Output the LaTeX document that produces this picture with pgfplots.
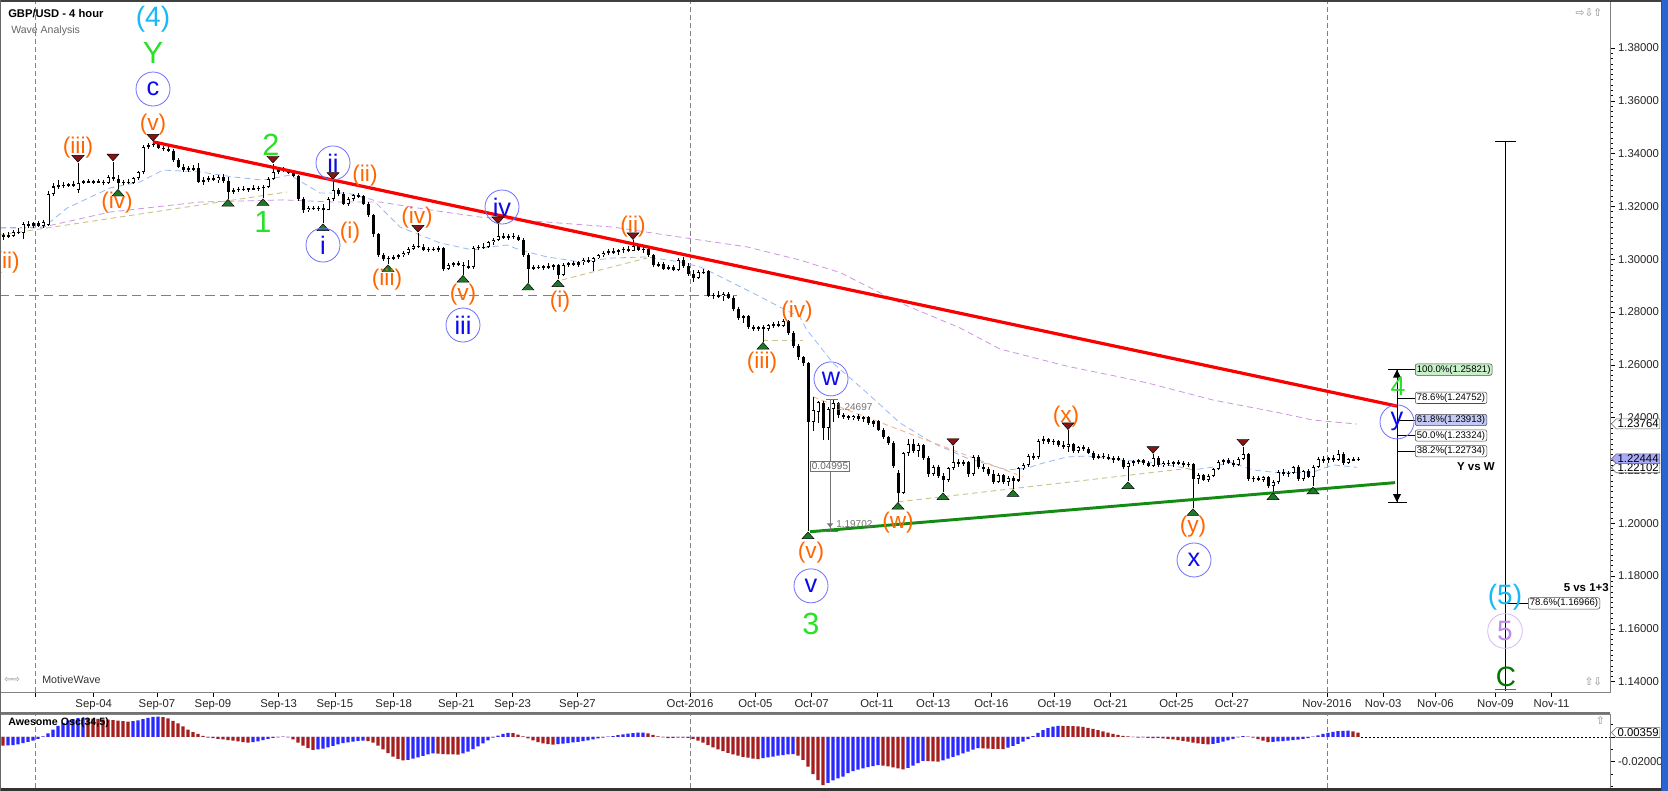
\documentclass[border=0pt]{standalone}
\usepackage{fontspec}
\setmainfont{Liberation Sans}
\newfontfamily\dejavu{DejaVu Sans}
\usepackage{pgfplots}
\pgfplotsset{compat=1.18}
\usepackage{pgfplotstable}
\usetikzlibrary{shapes.symbols}

\definecolor{orw}{RGB}{255,102,0}
\definecolor{cyw}{RGB}{25,185,245}
\definecolor{grw}{RGB}{40,225,40}
\definecolor{dgw}{RGB}{0,120,0}
\definecolor{blw}{RGB}{10,10,235}
\definecolor{blcirc}{RGB}{110,110,255}
\definecolor{puw}{RGB}{190,140,235}
\definecolor{pucirc}{RGB}{215,185,245}
\definecolor{redl}{RGB}{250,0,0}
\definecolor{grl}{RGB}{20,140,20}
\definecolor{triR}{RGB}{135,20,20}
\definecolor{triG}{RGB}{30,120,40}
\definecolor{maB}{RGB}{150,185,245}
\definecolor{maP}{RGB}{205,150,225}
\definecolor{tanl}{RGB}{205,195,140}
\definecolor{aoB}{RGB}{40,40,255}
\definecolor{aoR}{RGB}{165,30,30}
\definecolor{gdash}{RGB}{70,170,70}
\definecolor{odash}{RGB}{250,180,140}
\definecolor{axg}{RGB}{130,130,130}
\definecolor{frameB}{RGB}{40,100,210}
\definecolor{fibG}{RGB}{200,240,200}
\definecolor{fibB}{RGB}{195,200,245}
\definecolor{pboxB}{RGB}{170,170,250}

\tikzset{
 orn/.style={text=orw, font=\fontsize{17}{17}\selectfont, inner sep=0pt},
 grn/.style={text=grw, font=\fontsize{23}{23}\selectfont, inner sep=0pt},
 grnf/.style={text=grw, font=\fontsize{20}{20}\selectfont, inner sep=0pt},
 dgrn/.style={text=dgw, font=\fontsize{21}{21}\selectfont, inner sep=0pt},
 cyn/.style={text=cyw, font=\fontsize{21}{21}\selectfont, inner sep=0pt},
 blc/.style={circle, draw=blcirc, line width=0.6pt, minimum size=25.5pt, inner sep=0pt, text=blw, font=\fontsize{19}{19}\selectfont},
 puc/.style={circle, draw=pucirc, line width=0.6pt, minimum size=26pt, inner sep=0pt, text=puw, font=\fontsize{21}{21}\selectfont},
 fibbox/.style={draw=black!70, rounded corners=1.5pt, fill=white, inner xsep=1.2pt, inner ysep=0.9pt, font=\fontsize{7.2}{8}\selectfont, anchor=west},
 pbox/.style={shape=signal, signal to=west, draw=black!60, fill=white, inner xsep=1pt, inner ysep=0.7pt, anchor=west, font=\fontsize{8.5}{9}\selectfont},
}
\newcommand\dtri[2]{\filldraw[fill=triR, draw=black, line width=0.35pt] ([shift={(-4.5pt,5.6pt)}]axis cs:#1,#2) -- ([shift={(4.5pt,5.6pt)}]axis cs:#1,#2) -- ([shift={(0pt,0.6pt)}]axis cs:#1,#2) -- cycle;}
\newcommand\utri[2]{\filldraw[fill=triG, draw=black, line width=0.35pt] ([shift={(-4.5pt,-5.6pt)}]axis cs:#1,#2) -- ([shift={(4.5pt,-5.6pt)}]axis cs:#1,#2) -- ([shift={(0pt,-0.6pt)}]axis cs:#1,#2) -- cycle;}

\pgfplotstableread{
t o h l c
0 1.3085 1.3098 1.3072 1.3092
1 1.3092 1.3104 1.3080 1.3088
2 1.3088 1.3110 1.3083 1.3105
3 1.3105 1.3118 1.3096 1.3100
4 1.3100 1.3140 1.3078 1.3132
5 1.3132 1.3145 1.3120 1.3128
6 1.3128 1.3140 1.3118 1.3136
7 1.3136 1.3146 1.3122 1.3127
8 1.3127 1.3150 1.3120 1.3142
9 1.3130 1.3258 1.3125 1.3248
10 1.3248 1.3290 1.3240 1.3276
11 1.3276 1.3300 1.3268 1.3282
12 1.3282 1.3292 1.3270 1.3278
13 1.3278 1.3290 1.3272 1.3285
14 1.3285 1.3296 1.3275 1.3280
15 1.3262 1.3365 1.3250 1.3290
16 1.3290 1.3302 1.3285 1.3295
17 1.3295 1.3303 1.3288 1.3292
18 1.3292 1.3300 1.3287 1.3296
19 1.3296 1.3305 1.3290 1.3293
20 1.3293 1.3300 1.3283 1.3290
21 1.3290 1.3318 1.3285 1.3312
22 1.3312 1.3370 1.3295 1.3305
23 1.3305 1.3318 1.3268 1.3290
24 1.3290 1.3300 1.3282 1.3294
25 1.3294 1.3303 1.3285 1.3290
26 1.3290 1.3312 1.3285 1.3308
27 1.3308 1.3335 1.3300 1.3330
28 1.3330 1.3432 1.3325 1.3425
29 1.3425 1.3440 1.3418 1.3432
30 1.3432 1.3445 1.3425 1.3438
31 1.3438 1.3442 1.3418 1.3422
32 1.3422 1.3430 1.3410 1.3418
33 1.3418 1.3428 1.3408 1.3412
34 1.3412 1.3418 1.3370 1.3375
35 1.3375 1.3382 1.3345 1.3350
36 1.3350 1.3360 1.3330 1.3340
37 1.3340 1.3352 1.3330 1.3345
38 1.3345 1.3358 1.3335 1.3340
39 1.3345 1.3365 1.3288 1.3292
40 1.3292 1.3310 1.3280 1.3300
41 1.3300 1.3315 1.3292 1.3308
42 1.3308 1.3320 1.3295 1.3300
43 1.3300 1.3318 1.3290 1.3312
44 1.3312 1.3322 1.3290 1.3295
45 1.3295 1.3310 1.3230 1.3255
46 1.3255 1.3270 1.3248 1.3262
47 1.3262 1.3275 1.3255 1.3268
48 1.3268 1.3276 1.3258 1.3262
49 1.3262 1.3272 1.3255 1.3270
50 1.3270 1.3280 1.3262 1.3266
51 1.3266 1.3278 1.3258 1.3272
52 1.3272 1.3280 1.3232 1.3275
53 1.3275 1.3310 1.3270 1.3305
54 1.3305 1.3362 1.3300 1.3330
55 1.3330 1.3345 1.3322 1.3338
56 1.3338 1.3348 1.3330 1.3335
57 1.3335 1.3342 1.3325 1.3330
58 1.3330 1.3340 1.3310 1.3315
59 1.3315 1.3320 1.3220 1.3228
60 1.3228 1.3235 1.3175 1.3185
61 1.3185 1.3200 1.3180 1.3195
62 1.3195 1.3203 1.3185 1.3190
63 1.3190 1.3202 1.3182 1.3196
64 1.3196 1.3210 1.3137 1.3188
65 1.3188 1.3235 1.3185 1.3228
66 1.3228 1.3300 1.3222 1.3262
67 1.3262 1.3270 1.3240 1.3248
68 1.3248 1.3255 1.3205 1.3210
69 1.3210 1.3235 1.3200 1.3228
70 1.3228 1.3248 1.3222 1.3242
71 1.3242 1.3250 1.3232 1.3238
72 1.3238 1.3245 1.3205 1.3210
73 1.3210 1.3218 1.3160 1.3168
74 1.3168 1.3172 1.3085 1.3095
75 1.3095 1.3100 1.3008 1.3015
76 1.3015 1.3025 1.2995 1.3002
77 1.3002 1.3012 1.2982 1.3005
78 1.3005 1.3015 1.2998 1.3008
79 1.3008 1.3020 1.3000 1.3015
80 1.3015 1.3030 1.3010 1.3025
81 1.3025 1.3045 1.3018 1.3040
82 1.3040 1.3058 1.3035 1.3050
83 1.3050 1.3100 1.3042 1.3048
84 1.3048 1.3058 1.3030 1.3035
85 1.3035 1.3045 1.3028 1.3040
86 1.3040 1.3048 1.3030 1.3035
87 1.3035 1.3050 1.3028 1.3042
88 1.3042 1.3048 1.2955 1.2965
89 1.2965 1.2985 1.2958 1.2978
90 1.2978 1.2990 1.2970 1.2985
91 1.2985 1.2995 1.2975 1.2980
92 1.2980 1.2990 1.2942 1.2975
93 1.2975 1.2998 1.2965 1.2970
94 1.2970 1.3050 1.2962 1.3042
95 1.3042 1.3055 1.3035 1.3048
96 1.3048 1.3060 1.3040 1.3045
97 1.3045 1.3070 1.3042 1.3065
98 1.3065 1.3080 1.3055 1.3075
99 1.3075 1.3132 1.3070 1.3088
100 1.3088 1.3100 1.3078 1.3082
101 1.3082 1.3095 1.3075 1.3090
102 1.3090 1.3098 1.3078 1.3083
103 1.3083 1.3092 1.3070 1.3075
104 1.3075 1.3080 1.3010 1.3018
105 1.3018 1.3025 1.2912 1.2965
106 1.2965 1.2978 1.2958 1.2972
107 1.2972 1.2980 1.2962 1.2968
108 1.2968 1.2978 1.2960 1.2974
109 1.2974 1.2985 1.2965 1.2970
110 1.2970 1.2982 1.2960 1.2978
111 1.2978 1.2982 1.2925 1.2940
112 1.2940 1.2985 1.2935 1.2978
113 1.2978 1.2990 1.2970 1.2985
114 1.2985 1.2995 1.2975 1.2980
115 1.2980 1.2992 1.2972 1.2988
116 1.2988 1.3005 1.2980 1.2998
117 1.2998 1.3008 1.2985 1.2990
118 1.2990 1.3010 1.2955 1.3005
119 1.3005 1.3020 1.3000 1.3015
120 1.3015 1.3030 1.3008 1.3025
121 1.3025 1.3038 1.3018 1.3030
122 1.3030 1.3042 1.3020 1.3028
123 1.3028 1.3040 1.3015 1.3035
124 1.3035 1.3048 1.3025 1.3040
125 1.3040 1.3052 1.3028 1.3032
126 1.3032 1.3072 1.3030 1.3050
127 1.3050 1.3058 1.3030 1.3035
128 1.3035 1.3045 1.3025 1.3040
129 1.3040 1.3048 1.3010 1.3015
130 1.3015 1.3020 1.2970 1.2978
131 1.2978 1.2990 1.2970 1.2982
132 1.2982 1.2990 1.2960 1.2965
133 1.2965 1.2978 1.2958 1.2972
134 1.2972 1.2980 1.2955 1.2960
135 1.2960 1.3005 1.2955 1.2998
136 1.2998 1.3010 1.2968 1.2975
137 1.2975 1.2985 1.2935 1.2945
138 1.2945 1.2960 1.2915 1.2930
139 1.2930 1.2958 1.2925 1.2952
140 1.2952 1.2962 1.2945 1.2948
141 1.2955 1.2960 1.2858 1.2862
142 1.2862 1.2872 1.2848 1.2865
143 1.2865 1.2880 1.2855 1.2860
144 1.2860 1.2875 1.2842 1.2870
145 1.2870 1.2878 1.2850 1.2855
146 1.2855 1.2862 1.2805 1.2812
147 1.2812 1.2820 1.2770 1.2778
148 1.2778 1.2790 1.2760 1.2785
149 1.2785 1.2790 1.2735 1.2742
150 1.2742 1.2752 1.2730 1.2738
151 1.2738 1.2748 1.2728 1.2745
152 1.2745 1.2750 1.2688 1.2735
153 1.2735 1.2755 1.2728 1.2750
154 1.2750 1.2762 1.2740 1.2755
155 1.2755 1.2768 1.2745 1.2748
156 1.2748 1.2772 1.2742 1.2765
157 1.2765 1.2770 1.2715 1.2722
158 1.2722 1.2730 1.2665 1.2672
159 1.2672 1.2680 1.2620 1.2628
160 1.2628 1.2635 1.2595 1.2608
161 1.2608 1.2612 1.1970 1.2385
162 1.2385 1.2478 1.2350 1.2430
163 1.2421 1.2462 1.2380 1.2458
164 1.2455 1.2462 1.2315 1.2362
165 1.2362 1.2440 1.2315 1.2432
166 1.2432 1.2470 1.2385 1.2455
167 1.2455 1.2460 1.2400 1.2410
168 1.2410 1.2418 1.2395 1.2405
169 1.2405 1.2412 1.2390 1.2398
170 1.2398 1.2412 1.2392 1.2408
171 1.2408 1.2414 1.2388 1.2395
172 1.2395 1.2408 1.2385 1.2402
173 1.2402 1.2406 1.2372 1.2378
174 1.2378 1.2392 1.2365 1.2386
175 1.2386 1.2390 1.2350 1.2355
176 1.2355 1.2360 1.2320 1.2325
177 1.2325 1.2332 1.2298 1.2304
178 1.2304 1.2310 1.2210 1.2216
179 1.2190 1.2200 1.2082 1.2115
180 1.2115 1.2270 1.2110 1.2265
181 1.2265 1.2318 1.2255 1.2300
182 1.2300 1.2320 1.2268 1.2275
183 1.2275 1.2305 1.2250 1.2298
184 1.2298 1.2302 1.2240 1.2248
185 1.2248 1.2255 1.2175 1.2185
186 1.2185 1.2220 1.2180 1.2212
187 1.2212 1.2220 1.2170 1.2178
188 1.2178 1.2190 1.2118 1.2165
189 1.2165 1.2215 1.2155 1.2208
190 1.2208 1.2292 1.2200 1.2232
191 1.2232 1.2245 1.2215 1.2225
192 1.2225 1.2238 1.2218 1.2232
193 1.2232 1.2236 1.2175 1.2185
194 1.2185 1.2258 1.2180 1.2250
195 1.2250 1.2260 1.2205 1.2212
196 1.2212 1.2225 1.2195 1.2205
197 1.2205 1.2212 1.2180 1.2188
198 1.2188 1.2200 1.2150 1.2158
199 1.2158 1.2190 1.2152 1.2182
200 1.2182 1.2188 1.2148 1.2155
201 1.2155 1.2178 1.2140 1.2172
202 1.2172 1.2180 1.2130 1.2162
203 1.2162 1.2215 1.2155 1.2208
204 1.2208 1.2230 1.2200 1.2222
205 1.2222 1.2262 1.2215 1.2255
206 1.2255 1.2268 1.2240 1.2250
207 1.2250 1.2320 1.2245 1.2312
208 1.2312 1.2330 1.2300 1.2318
209 1.2318 1.2325 1.2302 1.2308
210 1.2308 1.2318 1.2298 1.2312
211 1.2312 1.2316 1.2290 1.2298
212 1.2298 1.2310 1.2282 1.2290
213 1.2290 1.2352 1.2270 1.2300
214 1.2300 1.2305 1.2268 1.2275
215 1.2275 1.2292 1.2268 1.2288
216 1.2288 1.2296 1.2275 1.2280
217 1.2280 1.2290 1.2262 1.2268
218 1.2268 1.2275 1.2240 1.2248
219 1.2248 1.2262 1.2242 1.2256
220 1.2256 1.2265 1.2245 1.2250
221 1.2250 1.2262 1.2238 1.2242
222 1.2242 1.2255 1.2230 1.2248
223 1.2248 1.2256 1.2235 1.2240
224 1.2240 1.2246 1.2205 1.2212
225 1.2212 1.2235 1.2160 1.2228
226 1.2228 1.2240 1.2218 1.2235
227 1.2235 1.2245 1.2225 1.2238
228 1.2238 1.2242 1.2222 1.2228
229 1.2228 1.2236 1.2212 1.2218
230 1.2218 1.2262 1.2215 1.2248
231 1.2248 1.2255 1.2212 1.2220
232 1.2220 1.2235 1.2212 1.2230
233 1.2230 1.2238 1.2218 1.2225
234 1.2225 1.2236 1.2215 1.2232
235 1.2232 1.2240 1.2222 1.2228
236 1.2228 1.2235 1.2215 1.2222
237 1.2222 1.2232 1.2212 1.2226
238 1.2226 1.2230 1.2058 1.2168
239 1.2168 1.2190 1.2150 1.2182
240 1.2182 1.2188 1.2160 1.2165
241 1.2165 1.2185 1.2158 1.2180
242 1.2180 1.2210 1.2175 1.2205
243 1.2205 1.2240 1.2200 1.2232
244 1.2232 1.2245 1.2222 1.2238
245 1.2238 1.2246 1.2225 1.2230
246 1.2230 1.2240 1.2215 1.2222
247 1.2222 1.2250 1.2218 1.2245
248 1.2245 1.2290 1.2240 1.2262
249 1.2262 1.2268 1.2160 1.2168
250 1.2168 1.2180 1.2158 1.2172
251 1.2172 1.2180 1.2160 1.2165
252 1.2165 1.2178 1.2155 1.2175
253 1.2175 1.2180 1.2135 1.2142
254 1.2142 1.2165 1.2118 1.2158
255 1.2158 1.2200 1.2150 1.2195
256 1.2195 1.2205 1.2180 1.2188
257 1.2188 1.2198 1.2175 1.2192
258 1.2192 1.2218 1.2185 1.2212
259 1.2212 1.2220 1.2160 1.2168
260 1.2168 1.2202 1.2160 1.2198
261 1.2198 1.2205 1.2170 1.2175
262 1.2175 1.2220 1.2140 1.2215
263 1.2215 1.2250 1.2210 1.2245
264 1.2245 1.2255 1.2230 1.2238
265 1.2238 1.2250 1.2228 1.2246
266 1.2246 1.2258 1.2232 1.2240
267 1.2240 1.2278 1.2235 1.2262
268 1.2262 1.2270 1.2222 1.2230
269 1.2230 1.2248 1.2225 1.2242
270 1.2242 1.2250 1.2235 1.2240
271 1.2240 1.2252 1.2236 1.2244
}\candles

\pgfplotstableread{
t v c
0 -0.0070 0
1 -0.0068 1
2 -0.0065 1
3 -0.0060 1
4 -0.0050 1
5 -0.0040 1
6 -0.0030 1
7 -0.0015 1
8 0.0005 1
9 0.0030 1
10 0.0060 1
11 0.0090 1
12 0.0115 1
13 0.0135 1
14 0.0145 1
15 0.0152 1
16 0.0154 1
17 0.0150 0
18 0.0148 0
19 0.0146 0
20 0.0142 0
21 0.0140 0
22 0.0136 0
23 0.0132 0
24 0.0128 0
25 0.0125 0
26 0.0128 1
27 0.0135 1
28 0.0145 1
29 0.0155 1
30 0.0162 1
31 0.0165 1
32 0.0160 0
33 0.0150 0
34 0.0130 0
35 0.0110 0
36 0.0085 0
37 0.0060 0
38 0.0040 0
39 0.0025 0
40 0.0010 0
41 -0.0005 0
42 -0.0010 0
43 -0.0015 0
44 -0.0020 0
45 -0.0025 0
46 -0.0030 0
47 -0.0036 0
48 -0.0042 0
49 -0.0046 0
50 -0.0042 1
51 -0.0035 1
52 -0.0026 1
53 -0.0016 1
54 -0.0008 1
55 -0.0003 1
56 0.0002 1
57 -0.0004 0
58 -0.0020 0
59 -0.0045 0
60 -0.0070 0
61 -0.0090 0
62 -0.0105 0
63 -0.0100 1
64 -0.0095 1
65 -0.0085 1
66 -0.0072 1
67 -0.0060 1
68 -0.0050 1
69 -0.0044 1
70 -0.0038 1
71 -0.0032 1
72 -0.0030 1
73 -0.0034 0
74 -0.0046 0
75 -0.0070 0
76 -0.0100 0
77 -0.0130 0
78 -0.0158 0
79 -0.0178 0
80 -0.0190 0
81 -0.0185 1
82 -0.0176 1
83 -0.0165 1
84 -0.0152 1
85 -0.0140 1
86 -0.0132 1
87 -0.0135 0
88 -0.0138 0
89 -0.0140 0
90 -0.0141 0
91 -0.0142 0
92 -0.0132 1
93 -0.0118 1
94 -0.0098 1
95 -0.0076 1
96 -0.0052 1
97 -0.0028 1
98 -0.0005 1
99 0.0012 1
100 0.0026 1
101 0.0034 1
102 0.0032 0
103 0.0020 0
104 0.0005 0
105 -0.0012 0
106 -0.0028 0
107 -0.0042 0
108 -0.0052 0
109 -0.0058 0
110 -0.0062 0
111 -0.0058 1
112 -0.0054 1
113 -0.0049 1
114 -0.0044 1
115 -0.0039 1
116 -0.0034 1
117 -0.0027 1
118 -0.0020 1
119 -0.0012 1
120 -0.0005 1
121 0.0002 1
122 0.0008 1
123 0.0015 1
124 0.0022 1
125 0.0028 1
126 0.0032 1
127 0.0035 1
128 0.0036 1
129 0.0030 0
130 0.0018 0
131 0.0006 0
132 -0.0004 0
133 -0.0010 0
134 -0.0008 1
135 -0.0006 1
136 -0.0005 1
137 -0.0008 0
138 -0.0016 0
139 -0.0030 0
140 -0.0045 0
141 -0.0065 0
142 -0.0085 0
143 -0.0100 0
144 -0.0115 0
145 -0.0128 0
146 -0.0140 0
147 -0.0150 0
148 -0.0160 0
149 -0.0168 0
150 -0.0175 0
151 -0.0179 0
152 -0.0172 1
153 -0.0165 1
154 -0.0158 1
155 -0.0151 1
156 -0.0146 1
157 -0.0141 1
158 -0.0138 1
159 -0.0150 0
160 -0.0185 0
161 -0.0240 0
162 -0.0300 0
163 -0.0350 0
164 -0.0390 0
165 -0.0372 1
166 -0.0352 1
167 -0.0336 1
168 -0.0320 1
169 -0.0292 1
170 -0.0276 1
171 -0.0265 1
172 -0.0255 1
173 -0.0245 1
174 -0.0236 1
175 -0.0228 1
176 -0.0232 0
177 -0.0238 0
178 -0.0246 0
179 -0.0255 0
180 -0.0262 0
181 -0.0250 1
182 -0.0232 1
183 -0.0212 1
184 -0.0194 1
185 -0.0196 0
186 -0.0198 0
187 -0.0200 0
188 -0.0190 1
189 -0.0176 1
190 -0.0162 1
191 -0.0148 1
192 -0.0133 1
193 -0.0118 1
194 -0.0103 1
195 -0.0090 1
196 -0.0092 0
197 -0.0094 0
198 -0.0096 0
199 -0.0097 0
200 -0.0098 0
201 -0.0086 1
202 -0.0072 1
203 -0.0056 1
204 -0.0038 1
205 -0.0018 1
206 0.0008 1
207 0.0034 1
208 0.0056 1
209 0.0072 1
210 0.0084 1
211 0.0091 1
212 0.0090 0
213 0.0089 0
214 0.0087 0
215 0.0085 0
216 0.0081 0
217 0.0074 0
218 0.0065 0
219 0.0055 0
220 0.0045 0
221 0.0035 0
222 0.0026 0
223 0.0018 0
224 0.0010 0
225 0.0004 0
226 -0.0002 0
227 -0.0006 0
228 -0.0004 1
229 -0.0008 0
230 -0.0010 0
231 -0.0008 1
232 -0.0012 0
233 -0.0016 0
234 -0.0020 0
235 -0.0025 0
236 -0.0031 0
237 -0.0038 0
238 -0.0045 0
239 -0.0051 0
240 -0.0056 0
241 -0.0060 0
242 -0.0055 1
243 -0.0047 1
244 -0.0038 1
245 -0.0027 1
246 -0.0015 1
247 -0.0004 1
248 0.0007 1
249 0.0003 0
250 -0.0006 0
251 -0.0018 0
252 -0.0030 0
253 -0.0041 0
254 -0.0039 1
255 -0.0036 1
256 -0.0033 1
257 -0.0029 1
258 -0.0025 1
259 -0.0021 1
260 -0.0016 1
261 -0.0010 1
262 0.0002 1
263 0.0014 1
264 0.0025 1
265 0.0034 1
266 0.0041 1
267 0.0047 1
268 0.0050 1
269 0.0052 1
270 0.0046 0
271 0.0036 0
}\ao

\begin{document}
\begin{tikzpicture}
\useasboundingbox (0pt,0pt) rectangle (1251pt,593.25pt);
\fill[white] (0pt,0pt) rectangle (1251pt,593.25pt);

% ---------------- main price panel ----------------
\begin{axis}[
  at={(0pt,74.25pt)}, anchor=south west, scale only axis,
  width=1207.5pt, height=519pt,
  xmin=-0.6, xmax=321.4, ymin=1.13610, ymax=1.39822,
  clip=false, scaled ticks=false,
  axis line style={draw=axg, line width=0.6pt},
  ytick pos=right, yticklabel pos=right, xtick pos=bottom,
  tick align=outside,
  major tick length=3.5pt, minor tick length=2pt,
  tick style={black, line width=0.45pt},
  ytick={1.14,1.16,1.18,1.20,1.22,1.24,1.26,1.28,1.30,1.32,1.34,1.36,1.38},
  yticklabels={1.14000,1.16000,1.18000,1.20000,1.22000,1.24000,1.26000,1.28000,1.30000,1.32000,1.34000,1.36000,1.38000},
  minor y tick num=9,
  xtick={6.36,18.15,30.8,42,55.12,66.36,78.15,90.68,101.94,114.9,137.4,150.48,161.72,174.8,186.04,197.68,210.3,221.52,234.66,245.78,264.8,276.04,286.5,298.48,309.7},
  xticklabels={,Sep-04,Sep-07,Sep-09,Sep-13,Sep-15,Sep-18,Sep-21,Sep-23,Sep-27,Oct-2016,Oct-05,Oct-07,Oct-11,Oct-13,Oct-16,Oct-19,Oct-21,Oct-25,Oct-27,Nov-2016,Nov-03,Nov-06,Nov-09,Nov-11},
  tick label style={font=\fontsize{8.5}{9}\selectfont, text=black!85},
  xticklabel style={yshift=1pt},
  yticklabel style={xshift=-1pt},
]
% month separators
\draw[axg, line width=0.6pt, dash pattern=on 3.5pt off 2.5pt] (axis cs:6.4,1.1361) -- (axis cs:6.4,1.3982);
\draw[axg, line width=0.6pt, dash pattern=on 3.5pt off 2.5pt] (axis cs:137.4,1.1361) -- (axis cs:137.4,1.3982);
\draw[axg, line width=0.6pt, dash pattern=on 3.5pt off 2.5pt] (axis cs:264.8,1.1361) -- (axis cs:264.8,1.3982);
% green dashed level
\draw[gdash, line width=0.8pt, dash pattern=on 7pt off 4pt] (axis cs:-0.6,1.2862) -- (axis cs:146.8,1.2862);

% moving averages
\addplot[maP, line width=0.6pt, dash pattern=on 4.5pt off 3pt] coordinates {
(-0.6,1.3119) (8,1.3122) (21.4,1.3179) (39.4,1.3217) (56,1.3225) (66,1.3217) (75.4,1.3217) (85.4,1.3187) (95.4,1.3160) (108.8,1.3141) (122,1.3122) (135.4,1.3084) (148.8,1.3047) (159.4,1.2997) (167.4,1.2950) (179.4,1.2835) (191.4,1.2740) (199.4,1.2660) (212.8,1.2595) (223.4,1.2554) (228.8,1.2532) (242,1.2467) (255.4,1.2418) (262,1.2391) (270.8,1.2376)};
\addplot[maB, line width=0.6pt, dash pattern=on 4.5pt off 3pt] coordinates {
(-0.6,1.3119) (8,1.3119) (12.8,1.3194) (21.4,1.3270) (27.4,1.3293) (32,1.3338) (39.4,1.3331) (46,1.3312) (52,1.3300) (57.4,1.3319) (63.4,1.3251) (68.8,1.3251) (74,1.3225) (79.4,1.3122) (87.4,1.3062) (94,1.3035) (97.4,1.3047) (100.8,1.3054) (103.4,1.3035) (108.8,1.3009) (115.4,1.2990) (122,1.3005) (128.8,1.3009) (135.4,1.2990) (139.4,1.2971) (142,1.2948) (146,1.2910) (150,1.2872) (155.4,1.2819) (159.4,1.2781) (160.8,1.2732) (166,1.2607) (172.8,1.2494) (179.4,1.2380) (186,1.2304) (192.8,1.2247) (200.8,1.2202) (204.8,1.2209) (208,1.2228) (212.8,1.2251) (216.8,1.2255) (223.4,1.2240) (228.8,1.2232) (235.4,1.2213) (238,1.2202) (242,1.2213) (245.4,1.2232) (250,1.2202) (255.4,1.2191) (262,1.2194) (266,1.2221) (270.8,1.2212)};
% tan / orange dashed segments
\addplot[tanl, line width=0.7pt, dash pattern=on 4pt off 3pt] coordinates {(-0.6,1.3092) (56.8,1.3255)};
\addplot[tanl, line width=0.7pt, dash pattern=on 4pt off 3pt] coordinates {(111.8,1.2922) (128.8,1.3005)};
\addplot[tanl, line width=0.7pt, dash pattern=on 4pt off 3pt] coordinates {(152,1.2694) (160,1.2694)};
\addplot[tanl, line width=0.7pt, dash pattern=on 4pt off 3pt] coordinates {(179,1.2081) (237.4,1.2209)};
\addplot[odash, line width=0.7pt, dash pattern=on 4pt off 3pt] coordinates {(162,1.2479) (204,1.2176)};

% candles: wicks, bodies, hollow up-bodies
\addplot[draw=none, mark=none, error bars/.cd, y dir=both, y explicit, error mark=none,
  error bar style={draw=black, solid, line width=0.6pt, line cap=butt}]
  table[x=t, y expr={(\thisrow{h}+\thisrow{l})/2}, y error expr={(\thisrow{h}-\thisrow{l})/2}] {\candles};
\addplot[draw=none, mark=none, error bars/.cd, y dir=both, y explicit, error mark=none,
  error bar style={draw=black, solid, line width=2.25pt, line cap=butt}]
  table[x=t, y expr={(\thisrow{o}+\thisrow{c})/2}, y error expr={max(abs(\thisrow{o}-\thisrow{c})/2,0.00012)}] {\candles};
\addplot[draw=none, mark=none, error bars/.cd, y dir=both, y explicit, error mark=none,
  error bar style={draw=white, solid, line width=0.9pt, line cap=butt}]
  table[x=t, y expr={(\thisrow{o}+\thisrow{c})/2}, y error expr={(\thisrow{c}>\thisrow{o}) ? max((\thisrow{c}-\thisrow{o})/2-0.0004,0) : 0}] {\candles};

% trend lines
\addplot[redl, line width=2.4pt] coordinates {(30,1.3445) (278.8,1.2444)};
\addplot[grl, line width=2.2pt] coordinates {(161.4,1.1968) (278.4,1.2154)};

% swing markers
\dtri{15}{1.3365} \dtri{22}{1.3370} \dtri{30}{1.3445} \dtri{54}{1.3362}
\dtri{66}{1.3300} \dtri{83}{1.3100} \dtri{99}{1.3132} \dtri{126}{1.3072}
\dtri{190}{1.2292} \dtri{213}{1.2352} \dtri{230}{1.2262} \dtri{248}{1.2290}
\utri{23}{1.3268} \utri{45}{1.3230} \utri{52}{1.3232} \utri{64}{1.3137}
\utri{77}{1.2982} \utri{92}{1.2942} \utri{105}{1.2912} \utri{111}{1.2925}
\utri{152}{1.2688} \utri{161}{1.1970} \utri{179}{1.2082} \utri{188}{1.2118}
\utri{202}{1.2130} \utri{225}{1.2160} \utri{238}{1.2058} \utri{254}{1.2118}
\utri{262}{1.2140}

% measuring tool near w
\draw[black!55, line width=0.5pt] (axis cs:165.4,1.2470) -- (axis cs:165.4,1.1968);
\draw[black!55, line width=0.9pt] (axis cs:164.6,1.2470) -- (axis cs:167,1.2470);
\draw[black!55, line width=0.9pt] (axis cs:163.6,1.1968) -- (axis cs:167,1.1968);
\fill[black!55] ([shift={(-2.5pt,3pt)}]axis cs:165.4,1.1985) -- ([shift={(2.5pt,3pt)}]axis cs:165.4,1.1985) -- (axis cs:165.4,1.1985) -- cycle;
\node[anchor=west, inner sep=0pt, text=black!55, font=\fontsize{7.5}{8}\selectfont] at (axis cs:166.6,1.2440) {1.24697};
\node[draw=black!55, fill=white, inner sep=1pt, text=black!60, font=\fontsize{7.5}{8}\selectfont] at (axis cs:165.4,1.2217) {0.04995};
\node[anchor=west, inner sep=0pt, text=black!55, font=\fontsize{7.5}{8}\selectfont] at (axis cs:166.6,1.1998) {1.19702};

% wave labels
\node[cyn] at (axis cs:30,1.3910) {(4)};
\node[grn] at (axis cs:30,1.3782) {Y};
\node[blc] at (axis cs:30,1.3645) {c};
\node[orn] at (axis cs:30,1.3509) {(v)};
\node[orn] at (axis cs:15,1.3422) {(iii)};
\node[orn] at (axis cs:22.8,1.3213) {(iv)};
\node[grn] at (axis cs:53.6,1.3433) {2};
\node[grn] at (axis cs:52,1.3141) {1};
\node[blc] at (axis cs:66,1.3365) {ii};
\node[orn] at (axis cs:72.4,1.3316) {(ii)};
\node[blc] at (axis cs:64,1.3054) {i};
\node[orn] at (axis cs:69.4,1.3100) {(i)};
\node[orn] at (axis cs:76.8,1.2922) {(iii)};
\node[orn, anchor=east] at (axis cs:3.4,1.2986) {(ii)};
\node[orn] at (axis cs:82.8,1.3156) {(iv)};
\node[orn] at (axis cs:92,1.2865) {(v)};
\node[blc] at (axis cs:92,1.2751) {iii};
\node[blc] at (axis cs:99.8,1.3198) {iv};
\node[orn] at (axis cs:111.4,1.2838) {(i)};
\node[orn] at (axis cs:126,1.3122) {(ii)};
\node[orn] at (axis cs:151.8,1.2607) {(iii)};
\node[orn] at (axis cs:158.8,1.2800) {(iv)};
\node[blc] at (axis cs:165.6,1.2547) {w};
\node[orn] at (axis cs:161.6,1.1887) {(v)};
\node[blc] at (axis cs:161.6,1.1763) {v};
\node[grn] at (axis cs:161.6,1.1619) {3};
\node[orn] at (axis cs:179,1.2001) {(w)};
\node[orn] at (axis cs:212.6,1.2403) {(x)};
\node[orn] at (axis cs:238,1.1986) {(y)};
\node[blc] at (axis cs:238.2,1.1861) {x};

% fibonacci "Y vs W"
\draw[black, line width=0.6pt] (axis cs:278.8,1.25821) -- (axis cs:278.8,1.2080);
\draw[black, line width=0.9pt] (axis cs:277,1.25821) -- (axis cs:280.8,1.25821);
\draw[black, line width=0.9pt] (axis cs:277,1.2080) -- (axis cs:280.8,1.2080);
\fill[black] ([shift={(-3pt,-6pt)}]axis cs:278.8,1.25821) -- ([shift={(3pt,-6pt)}]axis cs:278.8,1.25821) -- (axis cs:278.8,1.25821) -- cycle;
\fill[black] ([shift={(-3pt,6pt)}]axis cs:278.8,1.2080) -- ([shift={(3pt,6pt)}]axis cs:278.8,1.2080) -- (axis cs:278.8,1.2080) -- cycle;
\draw[black, line width=0.5pt] (axis cs:280.8,1.25821) -- (axis cs:282.4,1.25821);
\draw[black, line width=0.5pt] (axis cs:278.8,1.24752) -- (axis cs:282.4,1.24752);
\draw[black, line width=0.5pt] (axis cs:278.8,1.23913) -- (axis cs:282.4,1.23913);
\draw[black, line width=0.5pt] (axis cs:278.8,1.23324) -- (axis cs:282.4,1.23324);
\draw[black, line width=0.5pt] (axis cs:278.8,1.22734) -- (axis cs:282.4,1.22734);
\node[fibbox, fill=fibG] at (axis cs:282.4,1.25821) {100.0\%(1.25821)};
\node[fibbox] at (axis cs:282.4,1.24752) {78.6\%(1.24752)};
\node[fibbox, fill=fibB] at (axis cs:282.4,1.23913) {61.8\%(1.23913)};
\node[fibbox] at (axis cs:282.4,1.23324) {50.0\%(1.23324)};
\node[fibbox] at (axis cs:282.4,1.22734) {38.2\%(1.22734)};
\node[anchor=east, inner sep=0pt, font=\bfseries\fontsize{8.6}{9}\selectfont] at (axis cs:298.4,1.2214) {Y vs W};
\node[grnf] at (axis cs:279,1.2517) {4};
\node[blc] at (axis cs:278.8,1.2384) {y};

% fibonacci "5 vs 1+3"
\draw[black, line width=0.6pt] (axis cs:300.5,1.3446) -- (axis cs:300.5,1.1366);
\draw[black, line width=0.9pt] (axis cs:298.4,1.3446) -- (axis cs:302.6,1.3446);
\draw[black!60, line width=1.2pt] (axis cs:298.4,1.1370) -- (axis cs:302.6,1.1370);
\draw[black, line width=0.5pt] (axis cs:300.5,1.16966) -- (axis cs:305,1.16966);
\node[fibbox] at (axis cs:305,1.16966) {78.6\%(1.16966)};
\node[anchor=east, inner sep=0pt, font=\bfseries\fontsize{8.6}{9}\selectfont] at (axis cs:321.2,1.1755) {5 vs 1+3};
\node[cyn] at (axis cs:300.4,1.1721) {(5)};
\node[puc] at (axis cs:300.4,1.1592) {5};
\node[dgrn] at (axis cs:300.6,1.1418) {C};

% right-hand value tags
\node[pbox] at (axis cs:321.6,1.23764) {1.23764};
\node[pbox] at (axis cs:321.6,1.22102) {1.22102};
\node[pbox, fill=pboxB] at (axis cs:321.6,1.22444) {1.22444};
\end{axis}

% ---------------- Awesome oscillator panel ----------------
\begin{axis}[
  at={(0pt,2.25pt)}, anchor=south west, scale only axis,
  width=1207.5pt, height=55.5pt,
  xmin=-0.6, xmax=321.4, ymin=-0.041296, ymax=0.018623,
  clip=false, scaled ticks=false,
  axis line style={draw=axg, line width=0.6pt},
  xtick=\empty,
  ytick pos=right, yticklabel pos=right, tick align=outside,
  major tick length=3.5pt, minor tick length=2pt,
  tick style={black, line width=0.45pt},
  ytick={-0.02,0}, yticklabels={-0.02000,},
  minor ytick={-0.04,-0.03,-0.01,0.01},
  tick label style={font=\fontsize{8.5}{9}\selectfont, text=black!85},
  yticklabel style={xshift=-1pt},
]
\draw[axg, line width=0.6pt, dash pattern=on 3.5pt off 2.5pt] (axis cs:6.4,-0.0413) -- (axis cs:6.4,0.0186);
\draw[axg, line width=0.6pt, dash pattern=on 3.5pt off 2.5pt] (axis cs:137.4,-0.0413) -- (axis cs:137.4,0.0186);
\draw[axg, line width=0.6pt, dash pattern=on 3.5pt off 2.5pt] (axis cs:264.8,-0.0413) -- (axis cs:264.8,0.0186);
\addplot[ybar, bar width=0.64, bar shift=0pt, fill=aoB, draw=none] table[x=t, y expr={\thisrow{c}*\thisrow{v}}] {\ao};
\addplot[ybar, bar width=0.64, bar shift=0pt, fill=aoR, draw=none] table[x=t, y expr={(1-\thisrow{c})*\thisrow{v}}] {\ao};
\draw[black, line width=0.5pt, dash pattern=on 1.5pt off 1.5pt] (axis cs:271.6,0) -- (axis cs:321.4,0);
\node[anchor=west, inner sep=0pt, font=\bfseries\fontsize{8}{9}\selectfont] at (axis cs:1,0.0113) {Awesome Osc(34,5)};
\node[pbox] at (axis cs:321.6,0.00359) {0.00359};
\node[anchor=east, inner sep=0pt, text=black!45, font=\dejavu\fontsize{8}{9}\selectfont] at (axis cs:320.4,0.0135) {⇧};
\end{axis}

% date band bottom / panel separator
\draw[black!55, line width=1.2pt] (0pt,58.5pt) -- (1207.5pt,58.5pt);
% outer frame
\fill[black!75] (0pt,591.75pt) rectangle (1251pt,593.25pt);
\fill[black!80] (0pt,0pt) rectangle (1251pt,2.25pt);
\fill[black!60] (0pt,0pt) rectangle (0.75pt,593.25pt);
\fill[frameB] (1246.5pt,0pt) rectangle (1251pt,593.25pt);
\fill[black!70] (1245.75pt,0pt) rectangle (1246.5pt,593.25pt);

% titles
\node[anchor=west, inner sep=0pt, font=\bfseries\fontsize{8.4}{9}\selectfont] at (6pt,582.75pt) {GBP/USD - 4 hour};
\node[anchor=west, inner sep=0pt, text=black!60, font=\fontsize{7.9}{9}\selectfont] at (8.25pt,570pt) {Wave Analysis};
\node[anchor=west, inner sep=0pt, text=black!80, font=\fontsize{8}{9}\selectfont] at (31.5pt,83.25pt) {MotiveWave};
\node[anchor=west, inner sep=0pt, text=black!45, font=\dejavu\fontsize{7}{8}\selectfont] at (3pt,83.25pt) {⇦⇨};
\node[anchor=east, inner sep=0pt, text=black!45, font=\dejavu\fontsize{8}{9}\selectfont] at (1202pt,584pt) {⇨⇩⇧};
\node[anchor=east, inner sep=0pt, text=black!45, font=\dejavu\fontsize{8}{9}\selectfont] at (1202pt,82pt) {⇧⇩};
\end{tikzpicture}
\end{document}
